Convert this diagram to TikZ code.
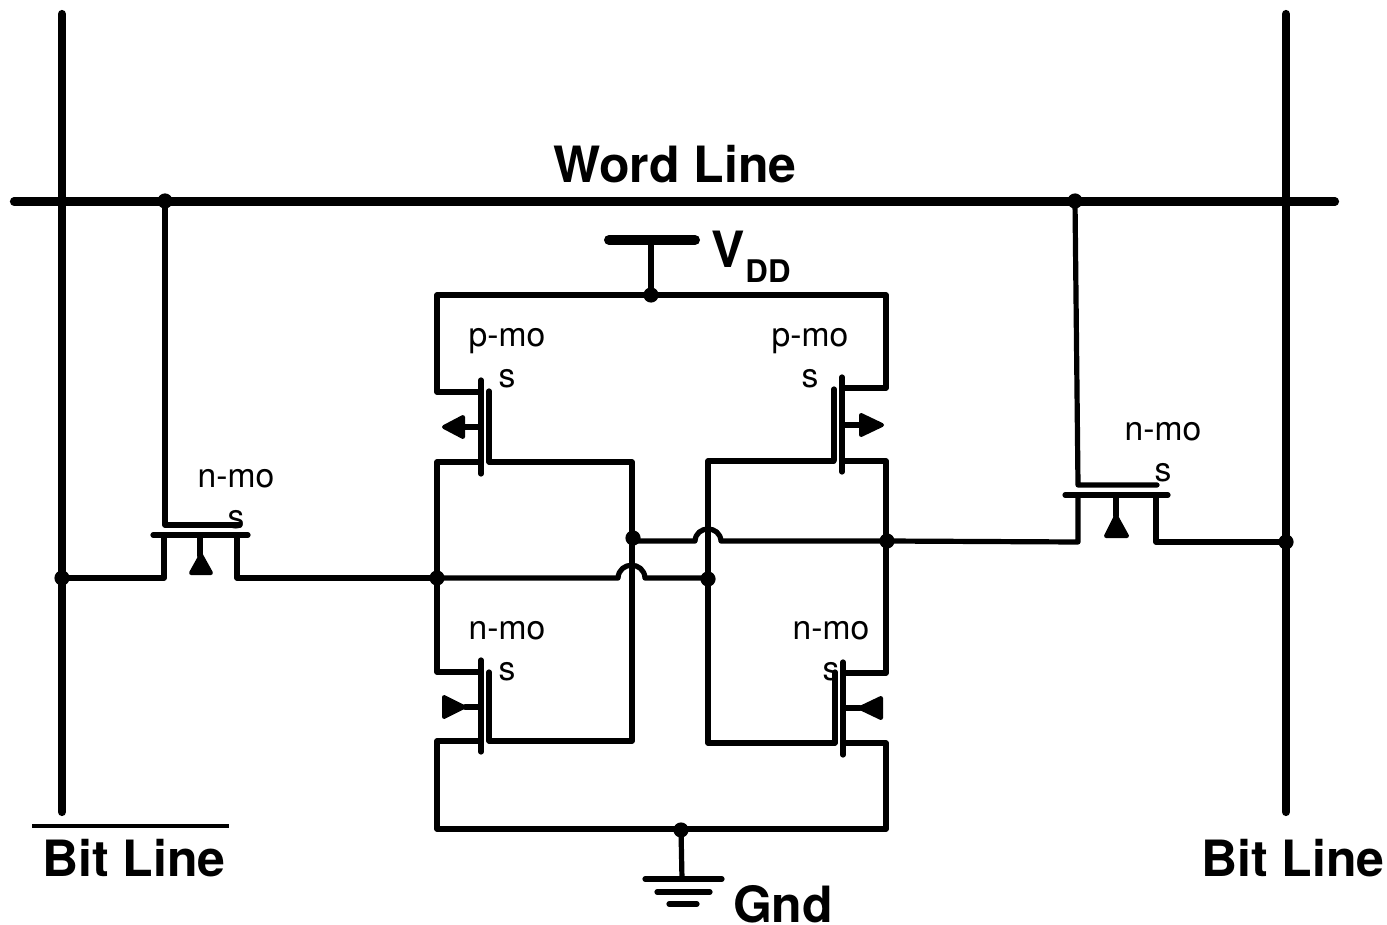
\documentclass[tikz,border=0pt]{standalone}
\usepackage{fontspec}
\setmainfont{TeX Gyre Heros}
\tikzset{
  wire/.style={line width=2.6pt,line cap=round,line join=round,black},
  bus/.style={line width=4.1pt,line cap=round,black},
  solidtri/.style={fill=black,draw=black,line width=2pt,line join=round},
  junction/.style={circle,fill=black,inner sep=0pt,minimum size=7.6pt},
  devlabel/.style={font=\fontsize{16.8pt}{20.5pt}\selectfont,align=center,inner sep=0pt},
  biglabel/.style={font=\fontsize{25pt}{28pt}\selectfont\bfseries,inner sep=0pt},
}
\begin{document}
\begin{tikzpicture}[x=0.5pt,y=-0.5pt]
\useasboundingbox (0,0) rectangle (1387,925);
% named points
\coordinate (blLtop) at (62,14);
\coordinate (blLbot) at (62,812);
\coordinate (blRtop) at (1286,14);
\coordinate (blRbot) at (1286,812);
\coordinate (wlL) at (14,201.5);
\coordinate (wlR) at (1335,201.5);
\node[junction] (wgL) at (165,201) {};
\node[junction] (wgR) at (1075,201) {};
\node[junction] (jBL) at (62,578) {};
\node[junction] (jBR) at (1286,542) {};
\node[junction] (jQL) at (437,578) {};
\node[junction] (jGR) at (708,579) {};
\node[junction] (jGL) at (633,538) {};
\node[junction] (jQR) at (887,541) {};
\node[junction] (jV) at (651,295) {};
\node[junction] (jG) at (681,830) {};
% bus lines
\draw[bus] (blLtop) -- (blLbot);
\draw[bus] (blRtop) -- (blRbot);
\draw[bus] (wlL) -- (wlR);
% labels
\node[biglabel] (wl) at (675,164.5) {Word Line};
\node[biglabel] (bl1) at (134,858.5) {Bit Line};
\node[biglabel] (bl2) at (1293,858.5) {Bit Line};
\node[biglabel] (gnd) at (783,904) {Gnd};
\node[biglabel] (vdd) at (728,249.5) {V};
\node[font=\fontsize{15.6pt}{18pt}\selectfont\bfseries,inner sep=0pt] (dd) at (768,271.5) {DD};
\draw[line width=2.1pt] (32,826) -- (229,826);
\node[devlabel] (t1) at (507,358.5) {p-mo\\s};
\node[devlabel] (t2) at (810,358.5) {p-mo\\s};
\node[devlabel] (t3) at (507,651.5) {n-mo\\s};
\node[devlabel] (t4) at (831,651.5) {n-mo\\s};
\node[devlabel] (t5) at (236,499.5) {n-mo\\s};
\node[devlabel] (t6) at (1163,452.5) {n-mo\\s};
% VDD
\draw[line width=5pt,line cap=round] (609,240) -- (695,240);
\draw[wire] (651,240) -- (jV.center);
\draw[wire] (481,392) -- (437,392) -- (437,295) -- (886,295) -- (886,388) -- (842,388);
% left p-mos
\draw[wire] (481,380) -- (481,474);
\draw[wire] (489,391) -- (489,462);
\draw[wire] (481,427) -- (465,427);
\draw[solidtri] (444,427) -- (463,417) -- (463,437) -- cycle;
\draw[wire] (481,462) -- (437,462) -- (jQL.center);
\draw[wire] (489,462) -- (632,462) -- (632,741) -- (489,741);
% right p-mos
\draw[wire] (842,377) -- (842,472);
\draw[wire] (834,389) -- (834,460);
\draw[wire] (842,425) -- (860,425);
\draw[solidtri] (882,425) -- (861,415) -- (861,435) -- cycle;
\draw[wire] (842,461) -- (886,461) -- (886,673) -- (843,673);
\draw[wire] (834,461) -- (708,461) -- (708,743) -- (835,743);
% left n-mos
\draw[wire] (481,660) -- (481,752);
\draw[wire] (489,672) -- (489,741);
\draw[wire] (481,707) -- (465,707);
\draw[solidtri] (464,707) -- (444,697) -- (444,717) -- cycle;
\draw[wire] (jQL.center) -- (437,672) -- (481,672);
\draw[wire] (481,741) -- (437,741) -- (437,829) -- (886,829) -- (886,743) -- (843,743);
% right n-mos
\draw[wire] (843,662) -- (843,755);
\draw[wire] (835,672) -- (835,743);
\draw[wire] (843,708) -- (860,708);
\draw[solidtri] (860,708) -- (881,698) -- (881,718) -- cycle;
% cross-coupling with jumps
\draw[wire] (jQL.center) -- (618,578) .. controls (619,561) and (644,561) .. (645,578) -- (708,578);
\draw[wire] (632,541) -- (695,541) .. controls (696,525) and (720,525) .. (721,541) -- (jQR.center);
% left access
\draw[wire] (wgL.center) -- (165,525) -- (240,525);
\draw[wire] (153,535) -- (248,535);
\draw[wire] (jBL.center) -- (164,578) -- (164,535);
\draw[wire] (237,535) -- (237,578) -- (jQL.center);
\draw[wire] (200,535) -- (200,556);
\draw[solidtri] (201,555) -- (191,573) -- (211,573) -- cycle;
% right access
\draw[wire] (wgR.center) -- (1078,485) -- (1157,485);
\draw[wire] (1065,495) -- (1168,495);
\draw[wire] (jQR.center) -- (1078,542) -- (1078,495);
\draw[wire] (1156,495) -- (1156,542) -- (jBR.center);
\draw[wire] (1116,495) -- (1116,516);
\draw[solidtri] (1116,516) -- (1106,536) -- (1127,536) -- cycle;
% ground
\draw[wire] (jG.center) -- (682,879);
\draw[wire] (645,879) -- (722,879);
\draw[wire] (657,892) -- (710,892);
\draw[wire] (669,904) -- (697,904);
\end{tikzpicture}
\end{document}
